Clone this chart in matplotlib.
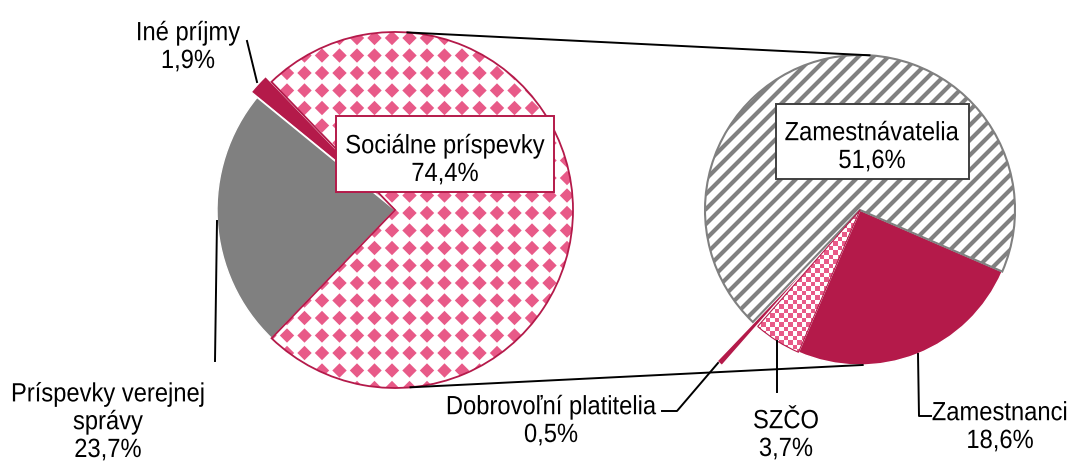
import numpy as np
import matplotlib.pyplot as plt
from matplotlib.patches import Wedge, Rectangle
from matplotlib.collections import PolyCollection, LineCollection
from matplotlib.patheffects import AbstractPathEffect
from matplotlib.transforms import Affine2D

plt.rcParams['font.family'] = ['Liberation Sans Narrow', 'Liberation Sans', 'DejaVu Sans']

# revenue structure and breakdown of social contributions (%)
main_labels = ['Sociálne príspevky', 'Iné príjmy', 'Príspevky verejnej\nsprávy']
main_values = [74.4, 1.9, 23.7]
social_labels = ['Zamestnávatelia', 'Dobrovoľní platitelia', 'SZČO', 'Zamestnanci']
social_values = [51.6, 0.5, 3.7, 18.6]

CRIMSON = '#B41A4A'
PINK = '#E85A88'
GREY = '#808080'

W, H = 1077, 464
fig = plt.figure(figsize=(W / 100, H / 100), dpi=100)
ax = fig.add_axes([0, 0, 1, 1])


class Narrow(AbstractPathEffect):
    """Squeeze glyphs horizontally around a fixed x (display pixels)."""

    def __init__(self, x0, sx=0.9):
        super().__init__()
        self._x0 = x0
        self._sx = sx

    def draw_path(self, renderer, gc, tpath, affine, rgbFace=None):
        squeeze = Affine2D().translate(-self._x0, 0).scale(self._sx, 1).translate(self._x0, 0)
        renderer.draw_path(gc, tpath, affine + squeeze, rgbFace)


def fmt(v):
    return f'{v:.1f}'.replace('.', ',') + '%'


def py(y):
    # y measured from the top edge -> axes y
    return H - y


left_c, left_r = (395, py(211)), 178
right_c, right_r = (860, py(211)), 155

left_wedges, _ = ax.pie(main_values, center=left_c, radius=left_r, startangle=-133.9,
                        counterclock=True, explode=[0, 8, 0],
                        colors=['white', CRIMSON, GREY],
                        wedgeprops=dict(edgecolor='white', linewidth=1))
right_wedges, _ = ax.pie(social_values, center=right_c, radius=right_r, startangle=-23.4,
                         counterclock=True, explode=[0, 53, 0, 0],
                         colors=['white', CRIMSON, 'white', CRIMSON],
                         wedgeprops=dict(edgecolor='white', linewidth=1))


def diamonds(wedge, step, half, color):
    cx, cy = wedge.center
    r = wedge.r
    polys = []
    for x in np.arange(cx - r - step, cx + r + step, step):
        for y in np.arange(cy - r - step, cy + r + step, step):
            polys.append([(x - half, y), (x, y + half), (x + half, y), (x, y - half)])
    pc = PolyCollection(polys, facecolors=color, edgecolors='none', zorder=1.5)
    ax.add_collection(pc)
    pc.set_clip_path(wedge)


def squares(wedge, step, half, color):
    cx, cy = wedge.center
    r = wedge.r
    polys = []
    for j, y in enumerate(np.arange(cy - r, cy + r, step / 2)):
        off = (j % 2) * step / 2
        for x in np.arange(cx - r + off, cx + r, step):
            polys.append([(x - half, y - half), (x + half, y - half),
                          (x + half, y + half), (x - half, y + half)])
    pc = PolyCollection(polys, facecolors=color, edgecolors='none', zorder=1.5)
    ax.add_collection(pc)
    pc.set_clip_path(wedge)


def stripes(wedge, step, color, lw):
    cx, cy = wedge.center
    r = wedge.r
    segs = []
    for c in np.arange(-2 * r, 2 * r, step):
        segs.append([(cx - r, cy - r + c), (cx + r, cy + r + c)])
    lc = LineCollection(segs, colors=color, linewidths=lw, zorder=1.5)
    ax.add_collection(lc)
    lc.set_clip_path(wedge)


def outline(wedge, color, lw):
    ax.add_patch(Wedge(wedge.center, wedge.r, wedge.theta1, wedge.theta2,
                       fill=False, edgecolor=color, linewidth=lw, zorder=2))


diamonds(left_wedges[0], 17.5, 7.2, PINK)
outline(left_wedges[0], CRIMSON, 1.3)
stripes(right_wedges[0], 15, GREY, 3.0)
outline(right_wedges[0], GREY, 1.5)
squares(right_wedges[2], 9, 2.4, PINK)
outline(right_wedges[2], CRIMSON, 0.8)

# connectors between the two pies
for a_left, a_right in [(86, 86.5), (-85, -89)]:
    p1 = (left_c[0] + left_r * np.cos(np.radians(a_left)), left_c[1] + left_r * np.sin(np.radians(a_left)))
    p2 = (right_c[0] + right_r * np.cos(np.radians(a_right)), right_c[1] + right_r * np.sin(np.radians(a_right)))
    ax.plot([p1[0], p2[0]], [p1[1], p2[1]], color='black', lw=1.4, zorder=3)

# leader lines
leaders = [
    [(247, 42), (257, 83)],
    [(217, 222), (215, 362)],
    [(662, 412), (677, 412), (718, 364)],
    [(777, 342), (777, 393)],
    [(918, 355), (919, 417), (931, 417)],
]
for pts in leaders:
    xs, ys = zip(*pts)
    ax.plot(xs, [py(v) for v in ys], color='black', lw=1.4, zorder=3)

# label boxes
for (x0, y0, x1, y1), ec in [((336, 117, 554, 193), CRIMSON), ((776, 105, 969, 180), '#404040')]:
    ax.add_patch(Rectangle((x0, py(y1)), x1 - x0, y1 - y0, facecolor='white',
                           edgecolor=ec, linewidth=1.4, zorder=4))


def label(x, last_baseline, text):
    ax.text(x, py(last_baseline), text, ha='center', va='baseline', fontsize=19,
            linespacing=1.2, zorder=5, path_effects=[Narrow(x)])


# (x centre, baseline of the last line)
label(445, 182, f'{main_labels[0]}\n{fmt(main_values[0])}')
label(188, 69, f'{main_labels[1]}\n{fmt(main_values[1])}')
label(108, 458, f'{main_labels[2]}\n{fmt(main_values[2])}')
label(872, 169, f'{social_labels[0]}\n{fmt(social_values[0])}')
label(551, 443, f'{social_labels[1]}\n{fmt(social_values[1])}')
label(786, 457, f'{social_labels[2]}\n{fmt(social_values[2])}')
label(1000, 449, f'{social_labels[3]}\n{fmt(social_values[3])}')

ax.set_aspect('auto')
ax.set_xlim(0, W)
ax.set_ylim(0, H)
ax.axis('off')

fig.savefig('out.png', dpi=100)
